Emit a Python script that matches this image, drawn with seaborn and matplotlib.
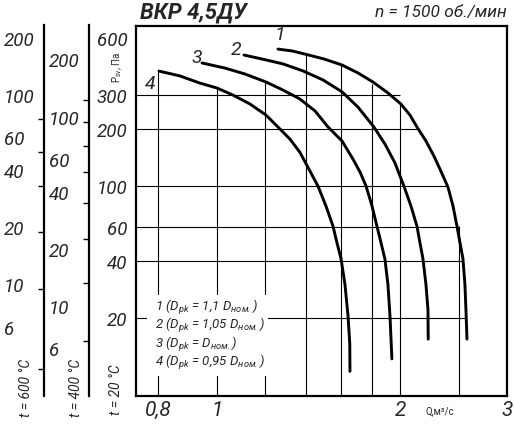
import matplotlib
matplotlib.use('Agg')
import matplotlib.pyplot as plt
import seaborn as sns
from matplotlib.patches import Rectangle
from matplotlib.ticker import NullLocator, FixedLocator

sns.set_theme(style='white')
plt.rcParams['font.family'] = ['Roboto', 'DejaVu Sans']
plt.rcParams['mathtext.fontset'] = 'custom'
plt.rcParams['mathtext.rm'] = 'Roboto:italic'
plt.rcParams['mathtext.it'] = 'Roboto:italic'
plt.rcParams['mathtext.default'] = 'it'

# --- характеристики вентилятора (Q, м3/с ; P, Па при t = 20 C) ---
q1 = [1.26, 1.33, 1.395, 1.50, 1.606, 1.706, 1.805, 1.911, 2.007, 2.077, 2.133,
      2.207, 2.275, 2.336, 2.399, 2.445, 2.482, 2.51, 2.539, 2.558, 2.568, 2.578]
p1 = [527, 515, 496, 467, 434, 394, 353, 309, 270, 236, 204,
      172, 143, 119, 98, 78, 61, 50, 41, 30, 22, 15.4]
q2 = [1.108, 1.186, 1.284, 1.385, 1.494, 1.606, 1.706, 1.812, 1.889, 1.962, 2.03,
      2.085, 2.133, 2.157, 2.182, 2.207, 2.224, 2.226]
p2 = [490, 467, 440, 404, 362, 313, 260, 204, 166, 132, 99.4,
      78, 61, 50, 41, 30, 22, 15.4]
q3 = [0.945, 1.031, 1.112, 1.204, 1.284, 1.369, 1.450, 1.523, 1.606, 1.674, 1.719,
      1.759, 1.799, 1.833, 1.861, 1.889, 1.911, 1.926, 1.940]
p3 = [445, 418, 389, 353, 320, 287, 248, 204, 172, 138, 118,
      99.4, 78, 61, 50, 41, 30, 20.4, 12.1]
q4 = [0.803, 0.869, 0.938, 1.0, 1.0625, 1.133, 1.204, 1.26, 1.3185, 1.369, 1.417,
      1.466, 1.511, 1.552, 1.575, 1.600, 1.624, 1.643, 1.654, 1.655]
p4 = [403, 380, 348, 328, 301, 270, 236, 204, 176, 150, 122,
      99.4, 78, 61, 50, 41, 30, 20.4, 14.5, 10.4]
curves = [(q1, p1), (q2, p2), (q3, p3), (q4, p4)]
curve_names = ['1', '2', '3', '4']
name_q = [1.27, 1.075, 0.927, 0.776]
name_p = [633, 527, 479, 349]

legend_lines = ['1 (D$_{pk}$ = 1,1 D$_{ном.}$)',
                '2 (D$_{pk}$ = 1,05 D$_{ном.}$)',
                '3 (D$_{pk}$ = D$_{ном.}$)',
                '4 (D$_{pk}$ = 0,95 D$_{ном.}$)']

# сетка (обрезана под кривыми)
vgrid_q = [0.8, 1.0, 1.2, 1.4, 1.6, 1.8, 2.0, 2.5]
vgrid_top = [403, 328, 353, 496, 439, 344, 275, 61]
hgrid_p = [300, 200, 100, 60, 40, 20]
hgrid_right = [2.0, 2.13, 2.39, 2.5, 2.54, 2.57]

# оси
q_lim = (0.736, 3.0)
p_lim = (7.7, 698)
x_ticks = [0.8, 1, 2, 3]
x_labels = ['0,8', '1', '2', '3']
p20_ticks = [600, 300, 200, 100, 60, 40, 20]
t600_lim = (2.58, 234)
t600_labels = [200, 100, 60, 40, 20, 10, 6]
t600_marks = [100, 75, 50, 33, 19, 9.5, 6, 3.6]
t400_lim = (3.35, 304)
t400_labels = [200, 100, 60, 40, 20, 10, 6]
t400_marks = [122, 93, 70, 51, 35, 22.7, 13.3, 6.5]

W, H = 514, 427
fig = plt.figure(figsize=(W / 100, H / 100), dpi=100)
ax = fig.add_axes([136 / W, 1 - 397 / H, (507 - 136) / W, (397 - 27) / H])
ax.set_xscale('log')
ax.set_yscale('log')
ax.set_xlim(*q_lim)
ax.set_ylim(*p_lim)

ax.vlines(vgrid_q, p_lim[0], vgrid_top, color='black', lw=0.8, zorder=1)
ax.hlines(hgrid_p, q_lim[0], hgrid_right, color='black', lw=0.8, zorder=1)
ax.add_patch(Rectangle((0.03, 0.054), 0.325, 0.218, transform=ax.transAxes,
                       facecolor='white', edgecolor='none', zorder=2))

for (q, p) in curves:
    sns.lineplot(x=q, y=p, sort=False, estimator=None, color='black', lw=2.1,
                 ax=ax, zorder=3)
    ax.lines[-1].set_solid_joinstyle('round')
for name, q, p in zip(curve_names, name_q, name_p):
    ax.text(q, p, name, fontsize=14, style='italic', ha='center', va='center')

for i, line in enumerate(legend_lines):
    ax.text(0.05, 0.243 - i * 0.05, line, transform=ax.transAxes, fontsize=9.5,
            style='italic', va='center', ha='left', zorder=4)

for s in ax.spines.values():
    s.set_color('black')
    s.set_linewidth(1.6)
ax.xaxis.set_major_locator(FixedLocator(x_ticks))
ax.xaxis.set_minor_locator(NullLocator())
ax.set_xticklabels(x_labels, fontsize=15, style='italic')
ax.yaxis.set_major_locator(FixedLocator(p20_ticks))
ax.yaxis.set_minor_locator(NullLocator())
ax.set_yticklabels([str(v) for v in p20_ticks], fontsize=13.5, style='italic')
ax.tick_params(axis='x', direction='out', length=3, width=1, pad=0, color='black')
ax.tick_params(axis='y', direction='in', length=4, width=1, pad=6, color='black')


def side_axis(x_px, lim, labels, marks):
    a = fig.add_axes([x_px / W, 1 - 397 / H, 0.001, (397 - 26) / H])
    a.set_yscale('log')
    a.set_ylim(*lim)
    a.set_xticks([])
    for k in ['top', 'right', 'bottom']:
        a.spines[k].set_visible(False)
    a.spines['left'].set_color('black')
    a.spines['left'].set_linewidth(1.6)
    a.patch.set_alpha(0)
    a.yaxis.set_major_locator(FixedLocator(labels))
    a.set_yticklabels([str(v) for v in labels], fontsize=13.5, style='italic', ha='left')
    a.yaxis.set_minor_locator(FixedLocator(marks))
    a.yaxis.set_minor_formatter(plt.NullFormatter())
    a.tick_params(axis='y', which='major', length=0, pad=29)
    a.tick_params(axis='y', which='minor', direction='out', length=4, width=1,
                  color='black', left=True)
    return a


side_axis(44, t600_lim, t600_labels, t600_marks)
side_axis(89, t400_lim, t400_labels, t400_marks)

fig.text(26 / W, 1 - 388 / H, 't = 600 °C', rotation=90, ha='center', va='center',
         fontsize=10, style='italic')
fig.text(76 / W, 1 - 388 / H, 't = 400 °C', rotation=90, ha='center', va='center',
         fontsize=10, style='italic')
fig.text(116 / W, 1 - 390 / H, 't = 20 °C', rotation=90, ha='center', va='center',
         fontsize=10, style='italic')
fig.text(117 / W, 1 - 67 / H, 'P$_{sv}$, Па', rotation=90, ha='center', va='center',
         fontsize=7)
fig.text(140 / W, 1 - 13 / H, 'ВКР 4,5ДУ', fontsize=16, fontweight='bold',
         style='italic', ha='left', va='center')
fig.text(507 / W, 1 - 13 / H, 'n = 1500 об./мин', fontsize=12.5, style='italic',
         ha='right', va='center')
fig.text(440 / W, 1 - 411 / H, 'Q,м³/с', fontsize=7, ha='center', va='center')

fig.savefig('out.png', dpi=100)
